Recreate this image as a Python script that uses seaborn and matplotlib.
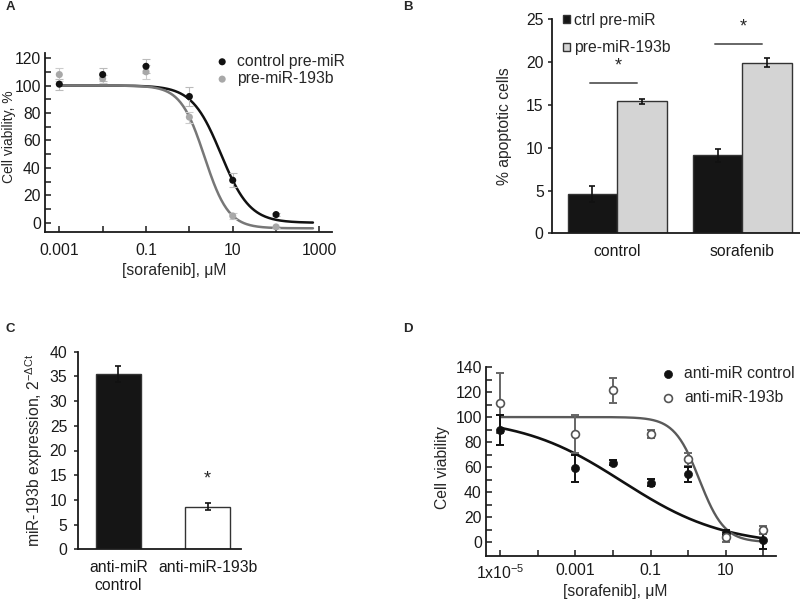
import numpy as np
import pandas as pd
import matplotlib
matplotlib.use("Agg")
import matplotlib.pyplot as plt
from matplotlib.ticker import NullLocator, FixedLocator
import seaborn as sns

# ---------------------------------------------------------------
# Data
# ---------------------------------------------------------------
# Panel A : viability after pre-miR transfection
conc_a = [0.001, 0.01, 0.1, 1, 10, 100]
ctrl_premir = [101, 108, 114, 92, 31, 6]
ctrl_premir_err = [4, 4.5, 5, 7, 5, 1]
premir_193b = [108, 105, 110, 77, 5, -3]
premir_193b_err = [5, 3, 5, 4, 2, 1]
# 4PL fits (top, bottom, log10 IC50, hill slope)
fit_ctrl_a = (100, 0, 0.73, 1.30)
fit_193b_a = (100, -4, 0.35, 1.57)

# Panel B : apoptosis
treatments_b = ["control", "sorafenib"]
groups_b = ["ctrl pre-miR", "pre-miR-193b"]
apopt_ctrl = [4.6, 9.1]
apopt_ctrl_err = [0.9, 0.8]
apopt_193b = [15.4, 19.95]
apopt_193b_err = [0.3, 0.55]
sig_line_b = [17.6, 22.1]

# Panel C : miR-193b expression
groups_c = ["anti-miR\ncontrol", "anti-miR-193b"]
expr_c = [35.5, 8.6]
expr_c_err = [1.55, 0.7]

# Panel D : viability after anti-miR transfection
conc_d = [1e-5, 1e-3, 1e-2, 0.1, 1, 10, 100]
anti_ctrl = [89.7, 59, 63.6, 47.6, 54.3, 7.5, 1.8]
anti_ctrl_err = [12, 11, 2, 3, 6, 2, 7]
anti_193b = [111, 86.5, 121.6, 86.5, 66.3, 4.5, 9.8]
anti_193b_err = [24, 15, 10, 3, 5, 4, 3]
fit_ctrl_d = (100, -3, -1.75, 0.32)
fit_193b_d = (100, 0, 0.30, 1.30)


def four_pl(x, params):
    top, bottom, logc, h = params
    return bottom + (top - bottom) / (1 + 10 ** (h * (np.log10(x) - logc)))


sns.set_theme(style="ticks")
plt.rcParams['font.family'] = ['Liberation Sans', 'DejaVu Sans']
plt.rcParams['mathtext.fontset'] = 'custom'
plt.rcParams['mathtext.rm'] = 'Liberation Sans'
plt.rcParams['mathtext.it'] = 'Liberation Sans:italic'
plt.rcParams['axes.linewidth'] = 1.3
plt.rcParams['axes.edgecolor'] = '#1a1a1a'
plt.rcParams['xtick.color'] = '#1a1a1a'
plt.rcParams['ytick.color'] = '#1a1a1a'
FS = 11.3

W, H = 800, 602
fig = plt.figure(figsize=(8, 6.02), dpi=100)


def box(l, t, r, b):
    return [l / W, 1 - b / H, (r - l) / W, (b - t) / H]


# ---------------------------------------------------------------
# A
# ---------------------------------------------------------------
ax = fig.add_axes(box(45, 53, 332, 232))
xs = np.logspace(-3, 2.85, 300)
sns.lineplot(x=xs, y=four_pl(xs, fit_ctrl_a), color='#111111', lw=1.8, ax=ax)
sns.lineplot(x=xs, y=four_pl(xs, fit_193b_a), color='#777777', lw=1.8, ax=ax)
ax.errorbar(conc_a, ctrl_premir, yerr=ctrl_premir_err, fmt='none', ecolor='#bbbbbb',
            elinewidth=0.8, capsize=3, capthick=0.8)
ax.errorbar(conc_a, premir_193b, yerr=premir_193b_err, fmt='none', ecolor='#cccccc',
            elinewidth=0.8, capsize=3, capthick=0.8)
sns.scatterplot(x=conc_a, y=ctrl_premir, color='#111111', s=26, edgecolor='none',
                label='control pre-miR', ax=ax, zorder=5)
sns.scatterplot(x=conc_a, y=premir_193b, color='#a8a8a8', s=26, edgecolor='none',
                label='pre-miR-193b', ax=ax, zorder=4)
ax.set_xscale('log')
ax.set_xlim(10 ** -3.33, 10 ** 3.29)
ax.set_ylim(-6.7, 123.7)
ax.xaxis.set_major_locator(FixedLocator([1e-3, 1e-2, 0.1, 1, 10, 100, 1000]))
ax.xaxis.set_minor_locator(NullLocator())
ax.set_xticklabels(['0.001', '', '0.1', '', '10', '', '1000'])
ax.set_yticks(range(0, 121, 20))
ax.yaxis.set_minor_locator(FixedLocator(range(10, 120, 20)))
ax.tick_params(axis='both', which='both', direction='in', length=4.5, width=1.1,
               labelsize=FS)
ax.tick_params(axis='x', pad=8)
ax.tick_params(axis='y', pad=3)
ax.set_xlabel('[sorafenib], μM', fontsize=FS)
ax.set_ylabel('Cell viability, %', fontsize=10)
ax.xaxis.set_label_coords(0.45, -0.175)
ax.yaxis.set_label_coords(-0.101, 0.53)
ax.legend(loc='upper left', bbox_to_anchor=(0.59, 0.995), frameon=False, fontsize=FS,
          borderpad=0, handlelength=1.0, handletextpad=0.45, labelspacing=0.15,
          borderaxespad=0)
sns.despine(ax=ax)

# ---------------------------------------------------------------
# B
# ---------------------------------------------------------------
ax = fig.add_axes(box(552, 19.3, 800, 233.3))
df_b = pd.DataFrame({
    'treatment': treatments_b * 2,
    'group': [groups_b[0]] * 2 + [groups_b[1]] * 2,
    'value': apopt_ctrl + apopt_193b,
})
sns.barplot(data=df_b, x='treatment', y='value', hue='group', order=treatments_b,
            hue_order=groups_b, palette=['#151515', '#d4d4d4'], edgecolor='#333333',
            linewidth=1.0, width=0.79, errorbar=None, ax=ax)
for cont, err in zip(ax.containers, [apopt_ctrl_err, apopt_193b_err]):
    cx = [p.get_x() + p.get_width() / 2 for p in cont]
    cy = [p.get_height() for p in cont]
    ax.errorbar(cx, cy, yerr=err, fmt='none', ecolor='#111111', elinewidth=1.2,
                capsize=2.5, capthick=1.2)
for i, yv in enumerate(sig_line_b):
    ax.plot([i - 0.22, i + 0.16], [yv, yv], color='#666666', lw=1.4)
    ax.text(i + 0.01, yv + 1.0, '*', ha='center', va='bottom', fontsize=13)
ax.set_xlim(-0.52, 1.46)
ax.set_ylim(0, 25)
ax.set_yticks(range(0, 26, 5))
ax.tick_params(axis='y', direction='out', length=3, width=1.1, pad=3, labelsize=FS)
ax.tick_params(axis='x', length=0, pad=8, labelsize=FS)
ax.set_xlabel('')
ax.set_ylabel('% apoptotic cells', fontsize=FS)
ax.yaxis.set_label_coords(-0.16, 0.5)
handles, labels = ax.get_legend_handles_labels()
ax.legend(handles, labels, loc='upper left', bbox_to_anchor=(0.045, 1.03),
          frameon=False, fontsize=FS, borderpad=0, handlelength=0.42,
          handleheight=0.42, handletextpad=0.25, labelspacing=0.8, borderaxespad=0)
sns.despine(ax=ax)

# ---------------------------------------------------------------
# C
# ---------------------------------------------------------------
ax = fig.add_axes(box(78.3, 351.7, 240.7, 549.3))
sns.barplot(x=groups_c, y=expr_c, hue=groups_c, palette=['#151515', '#ffffff'],
            edgecolor='#333333', linewidth=1.0, width=0.51, errorbar=None,
            legend=False, ax=ax)
ax.errorbar([0, 1], expr_c, yerr=expr_c_err, fmt='none', ecolor='#111111',
            elinewidth=1.2, capsize=2, capthick=1.2)
ax.text(1.0, 12.6, '*', ha='center', va='bottom', fontsize=13)
ax.set_xlim(-0.45, 1.37)
ax.set_ylim(0, 40)
ax.set_yticks(range(0, 41, 5))
ax.tick_params(axis='y', direction='out', length=3, width=1.1, pad=5, labelsize=FS)
ax.tick_params(axis='x', length=0, pad=8, labelsize=FS)
ax.set_ylabel('miR-193b expression, 2$^{\\mathrm{-ΔCt}}$', fontsize=FS)
ax.yaxis.set_label_coords(-0.205, 0.5)
sns.despine(ax=ax)

# ---------------------------------------------------------------
# D
# ---------------------------------------------------------------
ax = fig.add_axes(box(486, 367, 776, 556))
xs = np.logspace(-5, 2, 300)
sns.lineplot(x=xs, y=four_pl(xs, fit_ctrl_d), color='#111111', lw=1.9, ax=ax)
sns.lineplot(x=xs, y=four_pl(xs, fit_193b_d), color='#5a5a5a', lw=1.7, ax=ax)
ax.errorbar(conc_d, anti_193b, yerr=anti_193b_err, fmt='none', ecolor='#666666',
            elinewidth=1.4, capsize=3, capthick=1.4)
ax.errorbar(conc_d, anti_ctrl, yerr=anti_ctrl_err, fmt='none', ecolor='#111111',
            elinewidth=1.4, capsize=3, capthick=1.4)
sns.scatterplot(x=conc_d, y=anti_ctrl, color='#111111', s=34, edgecolor='#111111',
                label='anti-miR control', ax=ax, zorder=5)
sns.scatterplot(x=conc_d, y=anti_193b, color='white', s=32, edgecolor='#555555',
                linewidth=1.2, label='anti-miR-193b', ax=ax, zorder=6)
ax.set_xscale('log')
ax.set_xlim(10 ** -5.38, 10 ** 2.34)
ax.set_ylim(-11, 140)
ax.xaxis.set_major_locator(FixedLocator([1e-5, 1e-4, 1e-3, 1e-2, 0.1, 1, 10, 100]))
ax.xaxis.set_minor_locator(NullLocator())
ax.set_xticklabels(['1x10$^{\\mathrm{-5}}$', '', '0.001', '', '0.1', '', '10', ''])
ax.set_yticks(range(0, 141, 20))
ax.yaxis.set_minor_locator(FixedLocator(range(10, 140, 20)))
ax.tick_params(axis='both', which='both', direction='in', length=4.5, width=1.1,
               labelsize=FS)
ax.tick_params(axis='x', pad=5)
ax.tick_params(axis='y', pad=3)
ax.set_xlabel('[sorafenib], μM', fontsize=FS)
ax.set_ylabel('Cell viability', fontsize=FS)
ax.xaxis.set_label_coords(0.445, -0.15)
ax.yaxis.set_label_coords(-0.125, 0.47)
ax.legend(loc='upper left', bbox_to_anchor=(0.6, 1.005), frameon=False, fontsize=FS,
          borderpad=0, handlelength=1.0, handletextpad=0.55, labelspacing=0.55,
          borderaxespad=0)
sns.despine(ax=ax)

# panel letters
for lab, px, py in [('A', 10, 7), ('B', 408, 7), ('C', 10, 329), ('D', 408, 329)]:
    fig.text(px / W, 1 - py / H, lab, fontsize=9.5, fontweight='bold',
             ha='center', va='center')

fig.savefig('out.png', dpi=100)
